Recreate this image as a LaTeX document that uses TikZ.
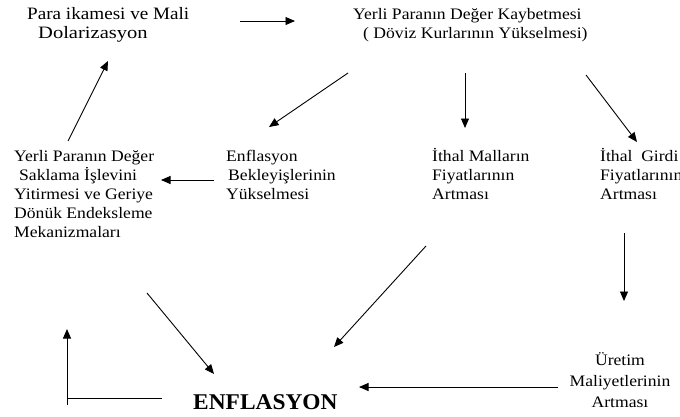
\documentclass[tikz,border=0pt]{standalone}
\usepackage{fontspec}
\setmainfont{Liberation Serif}[FakeStretch=1.1]
\newfontfamily\parafont{Liberation Serif}[FakeStretch=1.1]
\newfontfamily\dolfont{Liberation Serif}[FakeStretch=1.18]
\newfontfamily\bigfont{Liberation Serif}[FakeStretch=1.04]
\usetikzlibrary{arrows.meta}
\begin{document}
\begin{tikzpicture}[x=1pt,y=-1pt,
  txt/.style={anchor=north west,inner sep=0pt,align=left,font=\fontsize{16}{19}\selectfont},
  ptxt/.style={txt,font=\fontsize{17.4}{19}\parafont},
  ctxt/.style={anchor=north,inner sep=0pt,align=center,font=\fontsize{16}{21}\selectfont},
  big/.style={anchor=base west,inner sep=0pt,font=\fontsize{22.5}{27}\bigfont\bfseries},
  arr/.style={line width=0.9pt,-{Triangle[length=9.5pt,width=8pt]}},
  ln/.style={line width=0.9pt}]
\useasboundingbox (0,0) rectangle (680,416);
% text blocks
\node[ptxt] (para) at (27,5.7) {\strut Para ikamesi ve Mali\\\hspace*{11pt}{\dolfont Dolarizasyon}};
\node[txt] (deger) at (353,5.7) {\strut Yerli Paranın Değer Kaybetmesi\\\hspace*{10pt}( Döviz Kurlarının Yükselmesi)};
\node[txt] (sakla) at (14,148.2) {\strut Yerli Paranın Değer\\\hspace*{5pt}Saklama İşlevini\\Yitirmesi ve Geriye\\Dönük Endeksleme\\Mekanizmaları};
\node[txt] (bekle) at (226,147.7) {\strut Enflasyon\\\hspace*{2pt}Bekleyişlerinin\\Yükselmesi};
\node[txt] (mal) at (432,147.7) {\strut İthal Malların\\Fiyatlarının\\Artması};
\node[txt] (girdi) at (600,147.7) {\strut İthal\ \ Girdi\\Fiyatlarının\\Artması};
\node[ctxt] (uretim) at (620,350.3) {\strut Üretim\\Maliyetlerinin\\Artması};
\node[big] (enf) at (193,409) {ENFLASYON};
% connector end points
\coordinate (a1s) at (240,21);  \coordinate (a1e) at (295,21);
\coordinate (a2s) at (68,141);  \coordinate (a2e) at (108,61);
\coordinate (a3s) at (348,73);  \coordinate (a3e) at (269,127);
\coordinate (a4s) at (465,73);  \coordinate (a4e) at (465,128);
\coordinate (a5s) at (586,75);  \coordinate (a5e) at (637,142);
\coordinate (a6s) at (214,180); \coordinate (a6e) at (161,180);
\coordinate (a7s) at (426,246); \coordinate (a7e) at (334,347);
\coordinate (a8s) at (624,233); \coordinate (a8e) at (624,301);
\coordinate (a9s) at (558,387); \coordinate (a9e) at (359,387);
\coordinate (a10s) at (147,293); \coordinate (a10e) at (214,374);
\coordinate (a11s) at (162,398); \coordinate (a11c) at (67,398);
\coordinate (a11b) at (67,405); \coordinate (a11e) at (67,329);
% connectors
\draw[arr] (a1s) -- (a1e);
\draw[arr] (a2s) -- (a2e);
\draw[arr] (a3s) -- (a3e);
\draw[arr] (a4s) -- (a4e);
\draw[arr] (a5s) -- (a5e);
\draw[arr] (a6s) -- (a6e);
\draw[arr] (a7s) -- (a7e);
\draw[arr] (a8s) -- (a8e);
\draw[arr] (a9s) -- (a9e);
\draw[arr] (a10s) -- (a10e);
\draw[ln] (a11s) -- (a11c);
\draw[arr] (a11b) -- (a11e);
\end{tikzpicture}
\end{document}
